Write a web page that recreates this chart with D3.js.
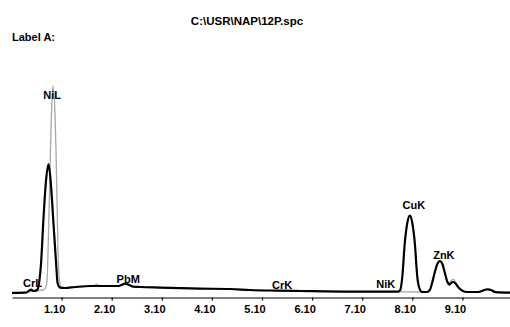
<!DOCTYPE html>
<html>
<head>
<meta charset="utf-8">
<script src="https://cdn.jsdelivr.net/npm/d3@7"></script>
<style>
  html, body { margin: 0; padding: 0; background: #fff; }
  text { font-family: "Liberation Sans", Arial, sans-serif; font-weight: bold; fill: #000; }
</style>
</head>
<body>
<svg id="chart" width="510" height="327"></svg>
<script>
// EDS spectrum: energy (keV) vs counts, two acquisitions overlaid
const title = "C:\\USR\\NAP\\12P.spc";
const sampleLabel = "Label A:";

// Main spectrum (black)
const mainEnergy = [0.11, 0.39, 0.45, 0.49, 0.55, 0.61, 0.65, 0.69, 0.74, 0.79, 0.84, 0.88, 0.93, 0.99, 1.02, 1.07,
  1.17, 1.37, 1.67, 2.07, 2.23, 2.29, 2.37, 2.45, 2.53, 2.67, 3.06, 3.86, 4.46, 4.86, 5.36, 5.86, 6.86, 7.66,
  7.82, 7.86, 7.90, 7.95, 8.00, 8.05, 8.10, 8.15, 8.20, 8.24, 8.29, 8.39, 8.45, 8.50, 8.55, 8.60, 8.65, 8.70,
  8.75, 8.80, 8.84, 8.88, 8.92, 8.97, 9.03, 9.11, 9.19, 9.41, 9.49, 9.55, 9.61, 9.67, 9.73, 9.81, 10.05];
const mainCounts = [21, 22, 32, 37, 30, 35, 70, 170, 400, 585, 665, 585, 400, 170, 70, 47,
  45, 50, 55, 55, 55, 60, 67, 60, 52, 50, 47, 42, 40, 35, 32, 30, 27, 27,
  27, 35, 100, 270, 370, 407, 370, 270, 100, 45, 26, 25, 35, 75, 125, 165, 180, 165,
  120, 75, 62, 72, 75, 65, 45, 30, 25, 25, 30, 36, 38, 35, 27, 23, 22];

// Overlay spectrum (grey)
const refEnergy = [0.11, 0.39, 0.59, 0.73, 0.78, 0.81, 0.83, 0.855, 0.878, 0.898, 0.928, 0.968, 0.988, 1.008, 1.028,
  1.058, 1.098, 1.17, 1.37, 1.72, 1.80, 1.88, 2.07, 2.23, 2.29, 2.37, 2.45, 2.53, 2.67, 3.06, 3.86, 4.46, 4.86,
  5.36, 5.86, 6.86, 7.66, 8.39, 8.45, 8.50, 8.55, 8.60, 8.65, 8.70, 8.75, 8.80, 8.84, 8.88, 8.92, 8.97, 9.03,
  9.11, 9.19, 9.41, 9.49, 9.55, 9.61, 9.67, 9.73, 9.81, 10.05];
const refCounts = [17, 24, 31, 35, 45, 85, 235, 485, 735, 920, 1055, 920, 735, 485, 235,
  85, 47, 45, 50, 55, 63, 55, 55, 55, 60, 67, 60, 52, 50, 47, 42, 40, 35,
  32, 30, 27, 27, 25, 35, 75, 125, 165, 180, 165, 122, 80, 70, 82, 88, 72, 48,
  30, 25, 25, 30, 37, 39, 35, 27, 23, 22];

// Peak identification labels: text, energy of label centre, height
const peakNames = ["CrL", "NiL", "PbM", "CrK", "NiK", "CuK", "ZnK"];
const peakLabelEnergy = [0.52, 0.91, 2.43, 5.50, 7.57, 8.13, 8.73];
const peakLabelCounts = [50, 990, 70, 40, 45, 440, 190];

// Energy axis ticks
const tickValues = [1.1, 2.1, 3.1, 4.1, 5.1, 6.1, 7.1, 8.1, 9.1];

const svg = d3.select("#chart");
const W = 510, H = 327;
svg.append("rect").attr("width", W).attr("height", H).attr("fill", "#fff");

const x = d3.scaleLinear().domain([0.11, 10.05]).range([12, 510]);
const y = d3.scaleLinear().domain([0, 1000]).range([297, 97]);

// title and sample label
svg.append("text").attr("x", 247).attr("y", 24.5).attr("text-anchor", "middle")
  .style("font-size", "11.5px").text(title);
svg.append("text").attr("x", 12).attr("y", 41).style("font-size", "11px").text(sampleLabel);

// energy axis
const axis = d3.axisBottom(x).tickValues(tickValues).tickFormat(d3.format(".2f"))
  .tickSize(3).tickSizeOuter(0).tickPadding(3);
const gAxis = svg.append("g").attr("transform", "translate(0,297.5)").call(axis);
gAxis.select(".domain").attr("stroke", "#000").attr("stroke-width", 1.2);
gAxis.selectAll(".tick line").attr("stroke", "#000").attr("stroke-width", 1.2);
gAxis.selectAll(".tick text").attr("font-family", null).style("font-size", "11px")
  .style("font-weight", "bold").attr("dy", "0.85em").attr("dx", -7.5);

const line = d3.line().x(d => x(d[0])).y(d => y(d[1])).curve(d3.curveMonotoneX);

svg.append("path").datum(d3.zip(refEnergy, refCounts)).attr("d", line)
  .attr("fill", "none").attr("stroke", "#a8a8a8").attr("stroke-width", 1.3);
svg.append("path").datum(d3.zip(mainEnergy, mainCounts)).attr("d", line)
  .attr("fill", "none").attr("stroke", "#000").attr("stroke-width", 2.2)
  .attr("stroke-linejoin", "round");

// peak labels
svg.append("g").selectAll("text").data(peakNames).join("text")
  .attr("x", (d, i) => x(peakLabelEnergy[i]))
  .attr("y", (d, i) => y(peakLabelCounts[i]))
  .attr("text-anchor", "middle").style("font-size", "11px").text(d => d);
</script>
</body>
</html>
